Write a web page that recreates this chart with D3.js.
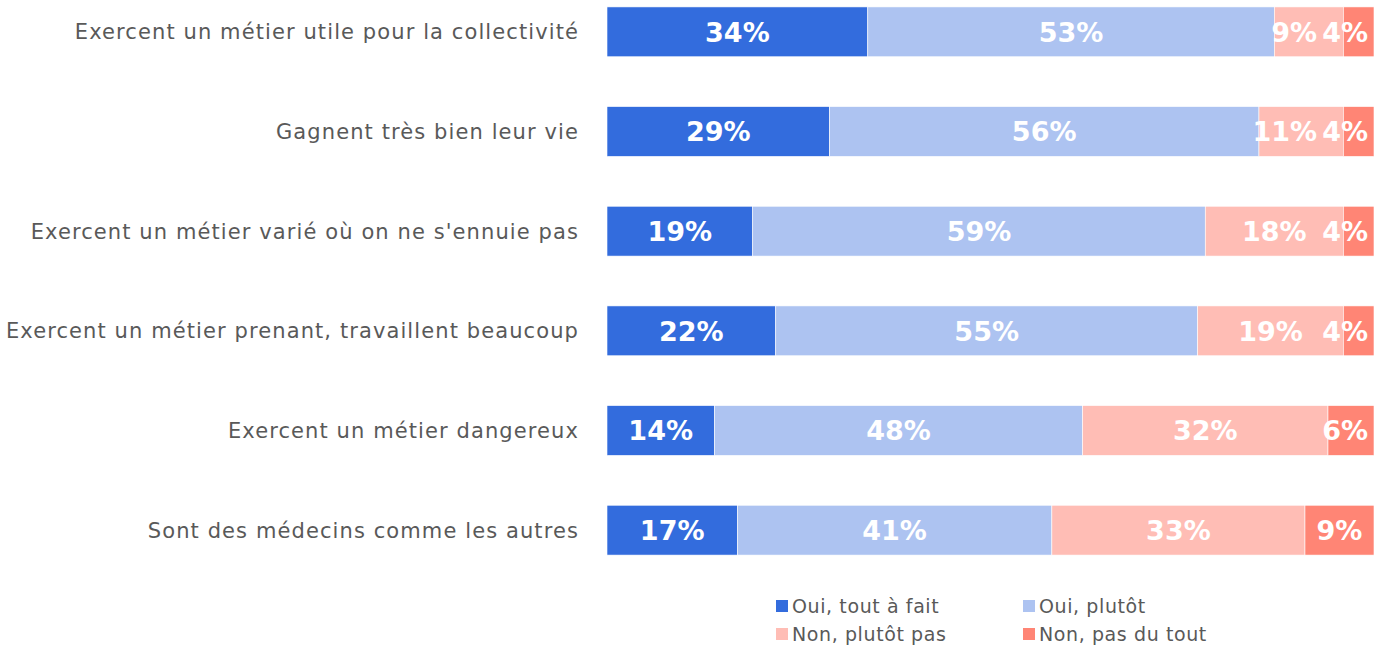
<!DOCTYPE html>
<html><head><meta charset="utf-8">
<script src="https://cdn.jsdelivr.net/npm/d3@7"></script>
<style>body{margin:0;background:#fff;} svg{display:block;}</style>
</head><body>
<svg id="c" width="1374" height="647"></svg>
<script>
const categories = [
  "Exercent un métier utile pour la collectivité",
  "Gagnent très bien leur vie",
  "Exercent un métier varié où on ne s'ennuie pas",
  "Exercent un métier prenant, travaillent beaucoup",
  "Exercent un métier dangereux",
  "Sont des médecins comme les autres"
];
const seriesNames = ["Oui, tout à fait", "Oui, plutôt", "Non, plutôt pas", "Non, pas du tout"];
const ouiToutAFait = [34, 29, 19, 22, 14, 17];
const ouiPlutot    = [53, 56, 59, 55, 48, 41];
const nonPlutotPas = [9, 11, 18, 19, 32, 33];
const nonPasDuTout = [4, 4, 4, 4, 6, 9];
const colors = ["#336CDD", "#ADC3F1", "#FFBDB5", "#FF8575"];

const seriesValues = [ouiToutAFait, ouiPlutot, nonPlutotPas, nonPasDuTout];
const rows = categories.map((c, i) => {
  const r = {cat: c};
  seriesNames.forEach((s, j) => r[s] = seriesValues[j][i]);
  return r;
});
const stacked = d3.stack().keys(seriesNames)(rows);

const svg = d3.select("#c");
const x = d3.scaleLinear().domain([0, 100]).range([607, 1374]);
const y = d3.scaleBand().domain(categories).range([-18, 580]).paddingInner(0.5).paddingOuter(0.25);
const color = d3.scaleOrdinal().domain(seriesNames).range(colors);

const font = "'DejaVu Sans', sans-serif";

// bars
const g = svg.append("g");
stacked.forEach(s => {
  g.selectAll(null).data(s).enter().append("rect")
    .attr("x", d => x(d[0]))
    .attr("y", d => y(d.data.cat))
    .attr("width", d => x(d[1]) - x(d[0]))
    .attr("height", y.bandwidth())
    .attr("fill", color(s.key))
    .attr("stroke", "#fff").attr("stroke-width", 0.6);
});

// data labels
categories.forEach((c, i) => {
  const labels = stacked.map(s => {
    const d = s[i];
    const t = svg.append("text")
      .attr("x", (x(d[0]) + x(d[1])) / 2)
      .attr("y", y(c) + y.bandwidth() / 2)
      .attr("dy", "0.37em")
      .attr("text-anchor", "middle")
      .attr("font-family", font).attr("font-weight", "bold")
      .attr("font-size", 27).attr("fill", "#fff")
      .text(d[1] - d[0] + "%");
    return {t, cx: (x(d[0]) + x(d[1])) / 2, w: t.node().getComputedTextLength()};
  });
  let limit = 1368;
  for (let k = labels.length - 1; k >= 0; k--) {
    const L = labels[k];
    if (L.cx + L.w / 2 > limit) { L.cx = limit - L.w / 2; }
    L.t.attr("x", L.cx);
    limit = L.cx - L.w / 2 - 5;
  }
});

// category labels
const catText = svg.selectAll(".cat").data(categories).enter().append("text")
  .attr("class", "cat")
  .attr("x", 579)
  .attr("y", d => y(d) + y.bandwidth() / 2)
  .attr("dy", "0.36em")
  .attr("text-anchor", "end")
  .attr("font-family", font).attr("font-size", 21).attr("fill", "#595959")
  .text(d => d);
let maxW = 0, maxN = 1;
catText.each(function(d) { const w = this.getComputedTextLength(); if (w > maxW) { maxW = w; maxN = d.length; } });
const ls = (572 - maxW) / (maxN - 1);
catText.attr("letter-spacing", ls);

// legend
const legPos = [[776, 606], [1023, 606], [776, 634], [1023, 634]];
seriesNames.forEach((s, j) => {
  const [lx, ly] = legPos[j];
  svg.append("rect").attr("x", lx).attr("y", ly - 6).attr("width", 12).attr("height", 12).attr("fill", colors[j]);
  svg.append("text").attr("x", lx + 16).attr("y", ly).attr("dy", "0.36em")
    .attr("font-family", font).attr("font-size", 19).attr("fill", "#595959")
    .attr("letter-spacing", 0.6)
    .text(s);
});
</script>
</body></html>
